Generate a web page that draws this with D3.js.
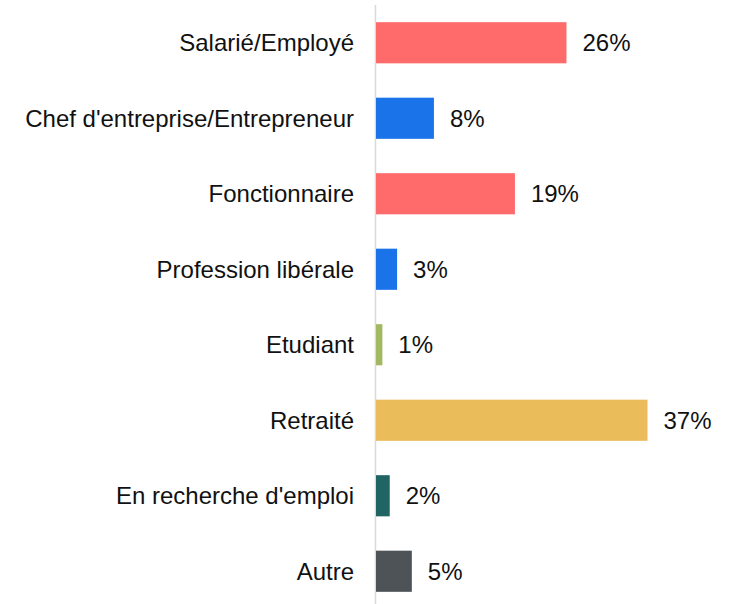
<!DOCTYPE html>
<html><head><meta charset="utf-8">
<script src="https://cdn.jsdelivr.net/npm/d3@7"></script>
<style>body{margin:0;background:#fff}svg{display:block}</style>
</head><body>
<svg id="c" width="739" height="604"></svg>
<script>
const categories = ["Salarié/Employé","Chef d'entreprise/Entrepreneur","Fonctionnaire","Profession libérale","Etudiant","Retraité","En recherche d'emploi","Autre"];
const values = [26, 8, 19, 3, 1, 37, 2, 5];
const colors = ["#ff6b6b","#1a73e8","#ff6b6b","#1a73e8","#a2b861","#ebbc5a","#216464","#4e5358"];

const svg = d3.select("#c");
const x0 = 375;
const x = d3.scaleLinear().domain([0, 37]).range([x0, x0 + 272.5]);
const y = d3.scaleBand().domain(categories).range([5, 609]).paddingInner(0.455).paddingOuter(0.2275);

svg.append("line").attr("x1", x0 + 0.5).attr("x2", x0 + 0.5).attr("y1", 5).attr("y2", 604)
  .attr("stroke", "#d9d9d9").attr("stroke-width", 1.5);

svg.selectAll("rect.bar").data(values).enter().append("rect")
  .attr("class", "bar")
  .attr("x", x(0) + 1)
  .attr("y", (d, i) => y(categories[i]))
  .attr("width", d => x(d) - x(0) - 1)
  .attr("height", y.bandwidth())
  .attr("fill", (d, i) => colors[i]);

svg.selectAll("text.cat").data(categories).enter().append("text")
  .attr("class", "cat")
  .attr("x", 354)
  .attr("y", d => y(d) + y.bandwidth() / 2)
  .attr("dy", "0.35em")
  .attr("text-anchor", "end")
  .attr("font-family", "'Liberation Sans', Arial, sans-serif")
  .attr("font-size", 24)
  .attr("fill", "#111")
  .text(d => d);

svg.selectAll("text.val").data(values).enter().append("text")
  .attr("class", "val")
  .attr("x", d => x(d) + 16)
  .attr("y", (d, i) => y(categories[i]) + y.bandwidth() / 2)
  .attr("dy", "0.35em")
  .attr("font-family", "'Liberation Sans', Arial, sans-serif")
  .attr("font-size", 24)
  .attr("fill", "#111")
  .text(d => d + "%");
</script>
</body></html>
